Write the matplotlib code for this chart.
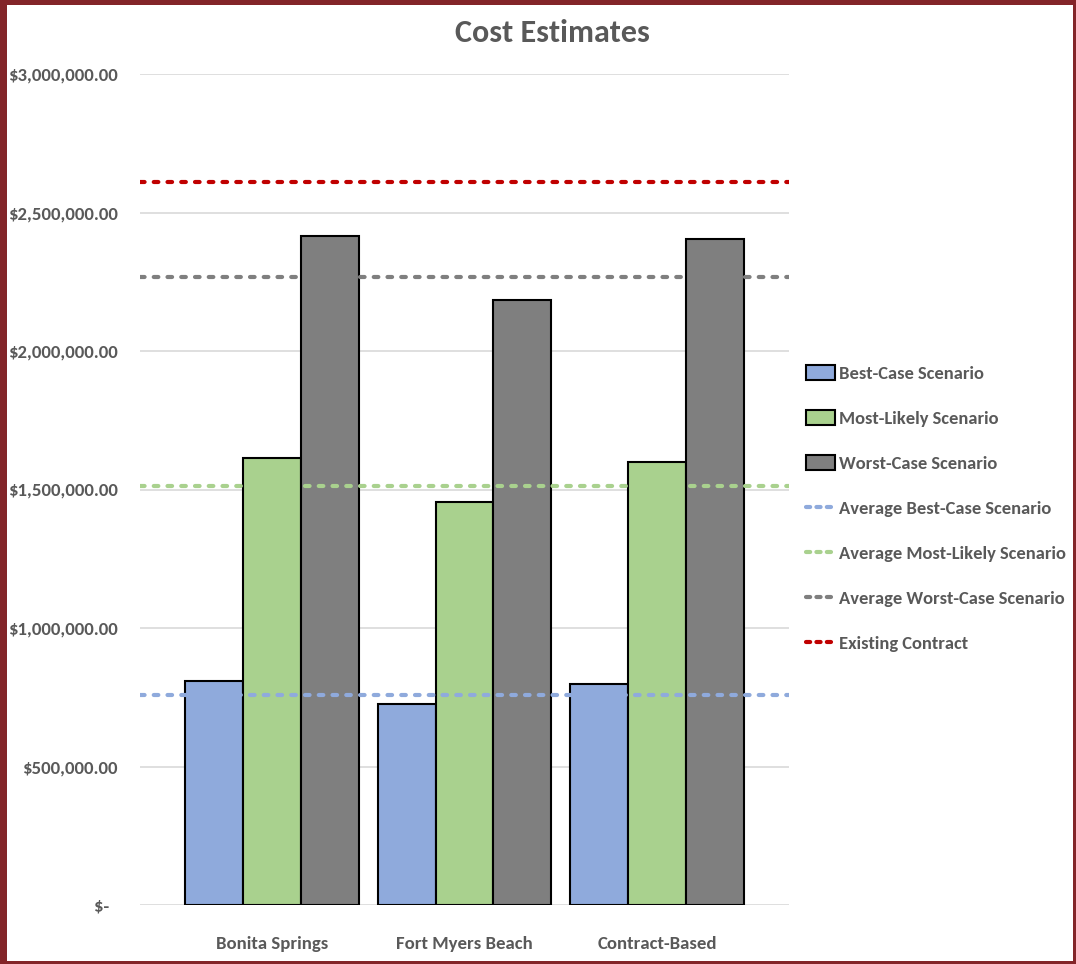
import matplotlib
matplotlib.use("Agg")
import matplotlib.pyplot as plt
from matplotlib.patches import Rectangle, Patch
from matplotlib.lines import Line2D
from matplotlib import font_manager as fm
import numpy as np

categories = ["Bonita Springs", "Fort Myers Beach", "Contract-Based"]
best_case = [808000, 726000, 798000]
most_likely = [1614000, 1455000, 1599000]
worst_case = [2415000, 2184000, 2404000]
avg_best = 758000
avg_most_likely = 1512000
avg_worst = 2267000
existing_contract = 2610000
y_ticks = [0, 500000, 1000000, 1500000, 2000000, 2500000, 3000000]
y_tick_labels = ["$-  ", "$500,000.00", "$1,000,000.00", "$1,500,000.00",
                 "$2,000,000.00", "$2,500,000.00", "$3,000,000.00"]

available = {f.name for f in fm.fontManager.ttflist}
prefs = ["Carlito", "Calibri", "Open Sans Condensed", "Roboto Condensed", "PT Sans Narrow",
         "Fira Sans Condensed", "Archivo Narrow", "Liberation Sans Narrow"]
chosen = next((p for p in prefs if p in available), "DejaVu Sans")
plt.rcParams["font.family"] = [chosen, "DejaVu Sans"]
TXT = "#595959"

W, H = 1076, 964
fig = plt.figure(figsize=(W/100, H/100), dpi=100)
ax = fig.add_axes([140/W, 1-905/H, (789-140)/W, (905-74)/H])

x = np.arange(len(categories))
w = 0.30
cols = ["#8FAADC", "#A9D18E", "#7F7F7F"]
names = ["Best-Case Scenario", "Most-Likely Scenario", "Worst-Case Scenario"]
for i, (vals, c) in enumerate(zip([best_case, most_likely, worst_case], cols)):
    ax.bar(x + (i-1)*w, vals, width=w, color=c, edgecolor="black", linewidth=1.5, zorder=3)

xl = (-0.684, 2.684)
line_specs = [(avg_best, "#8FAADC", "Average Best-Case Scenario"),
              (avg_most_likely, "#A9D18E", "Average Most-Likely Scenario"),
              (avg_worst, "#7F7F7F", "Average Worst-Case Scenario"),
              (existing_contract, "#C00000", "Existing Contract")]
dash = (0, (1.1, 2.2))
for v, c, n in line_specs:
    ax.plot(list(xl), [v, v], color=c, lw=3.0, linestyle=dash, dash_capstyle="round", zorder=4)

ax.set_xlim(*xl)
ax.set_ylim(0, 3000000)
ax.set_yticks(y_ticks)
ax.set_yticklabels(y_tick_labels)
ax.set_xticks(x)
ax.set_xticklabels(categories)
for s in ax.spines.values():
    s.set_visible(False)
ax.grid(axis="y", color="#D9D9D9", lw=1.2, zorder=0)
ax.tick_params(axis="both", length=0, colors=TXT)
ax.tick_params(axis="y", pad=16)
ax.tick_params(axis="x", pad=22)
for lab in ax.get_yticklabels() + ax.get_xticklabels():
    lab.set_fontsize(13.5)
    lab.set_fontweight("bold")
    lab.set_color(TXT)

fig.text(552/W, 1-33/H, "Cost Estimates", ha="center", va="center",
         fontsize=23, fontweight="bold", color=TXT)

handles = [Patch(facecolor=c, edgecolor="black", linewidth=1.5) for c in cols]
leg_dash = (0, (1.0, 1.5))
handles += [Line2D([0], [0], color=c, lw=3.0, linestyle=leg_dash, dash_capstyle="round") for _, c, _ in line_specs]
labels = names + [n for _, _, n in line_specs]
leg = fig.legend(handles, labels, loc="upper left", bbox_to_anchor=(806/W, 1-365/H),
                 frameon=False, fontsize=13.3, handlelength=1.55, handleheight=0.85,
                 handletextpad=0.25, labelspacing=1.53, borderaxespad=0, borderpad=0)
for t in leg.get_texts():
    t.set_color(TXT)
    t.set_fontweight("bold")

BC = "#832529"
for (bx, by, bw, bh) in [(0, 0, 7, H), (0, 0, W, 5), (W-3, 0, 3, H), (0, H-3, W, 3)]:
    fig.patches.append(Rectangle((bx/W, 1-(by+bh)/H), bw/W, bh/H, transform=fig.transFigure,
                                 facecolor=BC, edgecolor="none", zorder=10))

fig.savefig("out.png", dpi=100)
